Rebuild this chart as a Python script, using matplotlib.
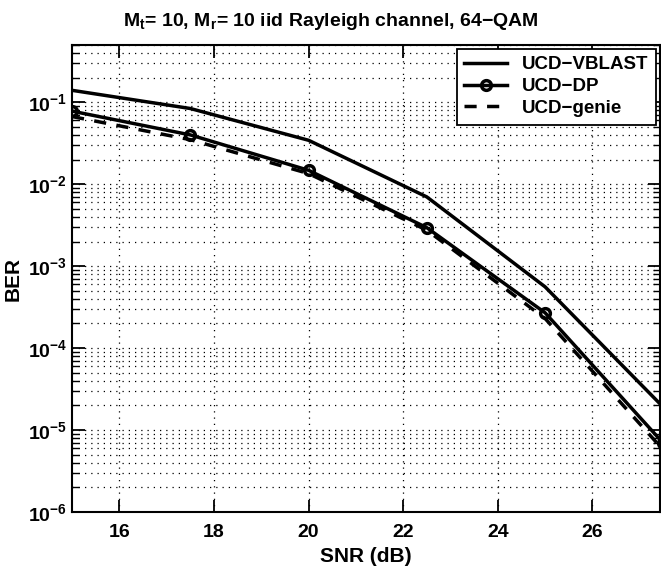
import numpy as np
import matplotlib
matplotlib.use('Agg')
import matplotlib.pyplot as plt
from matplotlib.ticker import LogLocator, NullFormatter

plt.rcParams['font.family'] = ['Liberation Sans', 'DejaVu Sans']
plt.rcParams['font.weight'] = 'bold'
plt.rcParams['mathtext.fontset'] = 'custom'
plt.rcParams['mathtext.rm'] = 'Liberation Sans:bold'
plt.rcParams['mathtext.bf'] = 'Liberation Sans:bold'
plt.rcParams['mathtext.default'] = 'bf'

# data
snr = [15, 17.5, 20, 22.5, 25, 27.5]
ber_vblast = [0.14, 0.084, 0.0344, 0.0070, 5.6e-4, 1.9e-5]
ber_dp = [0.078, 0.040, 0.0148, 0.00295, 2.7e-4, 6.9e-6]
ber_genie = [0.067, 0.035, 0.0135, 0.00275, 2.3e-4, 5.7e-6]

xticks = [16, 18, 20, 22, 24, 26]

fig = plt.figure(figsize=(6.61, 5.70), dpi=100)
ax = fig.add_axes([0.109, 0.1018, 0.8895, 0.8192])

ax.semilogy(snr, ber_vblast, '-', color='black', lw=2.5, label='UCD−VBLAST')
ax.semilogy(snr, ber_dp, '-o', color='black', lw=2.5, ms=7, mfc='none', mew=2.5, label='UCD−DP')
ax.semilogy(snr, ber_genie, '--', color='black', lw=2.5, dashes=(3.5, 3), label='UCD−genie')

ax.set_xlim(15, 27.43)
ax.set_ylim(1e-6, 0.5)
ax.set_xticks(xticks)
ax.yaxis.set_major_locator(LogLocator(base=10, numticks=10))
ax.yaxis.set_minor_locator(LogLocator(base=10, subs=np.arange(2, 10), numticks=20))
ax.yaxis.set_minor_formatter(NullFormatter())

ax.tick_params(which='both', direction='in', top=True, right=True, labelsize=14)
ax.tick_params(axis='x', which='major', pad=9)
ax.tick_params(which='major', length=9, width=1.3)
ax.tick_params(which='minor', length=5, width=1.0)
for s in ax.spines.values():
    s.set_linewidth(1.5)

ax.grid(True, which='major', axis='both', color='black', linestyle=(0, (1, 4)), linewidth=0.9)
ax.grid(True, which='minor', axis='y', color='black', linestyle=(0, (1, 4)), linewidth=0.9)

ax.set_xlabel('SNR (dB)', fontsize=15, fontweight='bold', labelpad=4)
ax.set_ylabel('BER', fontsize=15, fontweight='bold', labelpad=4)
fig.text(0.5, 0.962, 'M$_{t}$= 10, M$_{r}$= 10 iid Rayleigh channel, 64−QAM',
         fontsize=14, fontweight='bold', ha='center', va='center')

leg = ax.legend(loc='upper right', fontsize=13.5, fancybox=False, framealpha=1,
                edgecolor='black', borderaxespad=0.2, handlelength=2.3,
                labelspacing=0.25, borderpad=0.4, handletextpad=0.8)
leg.get_frame().set_linewidth(1.3)

fig.savefig('out.png', dpi=100)
